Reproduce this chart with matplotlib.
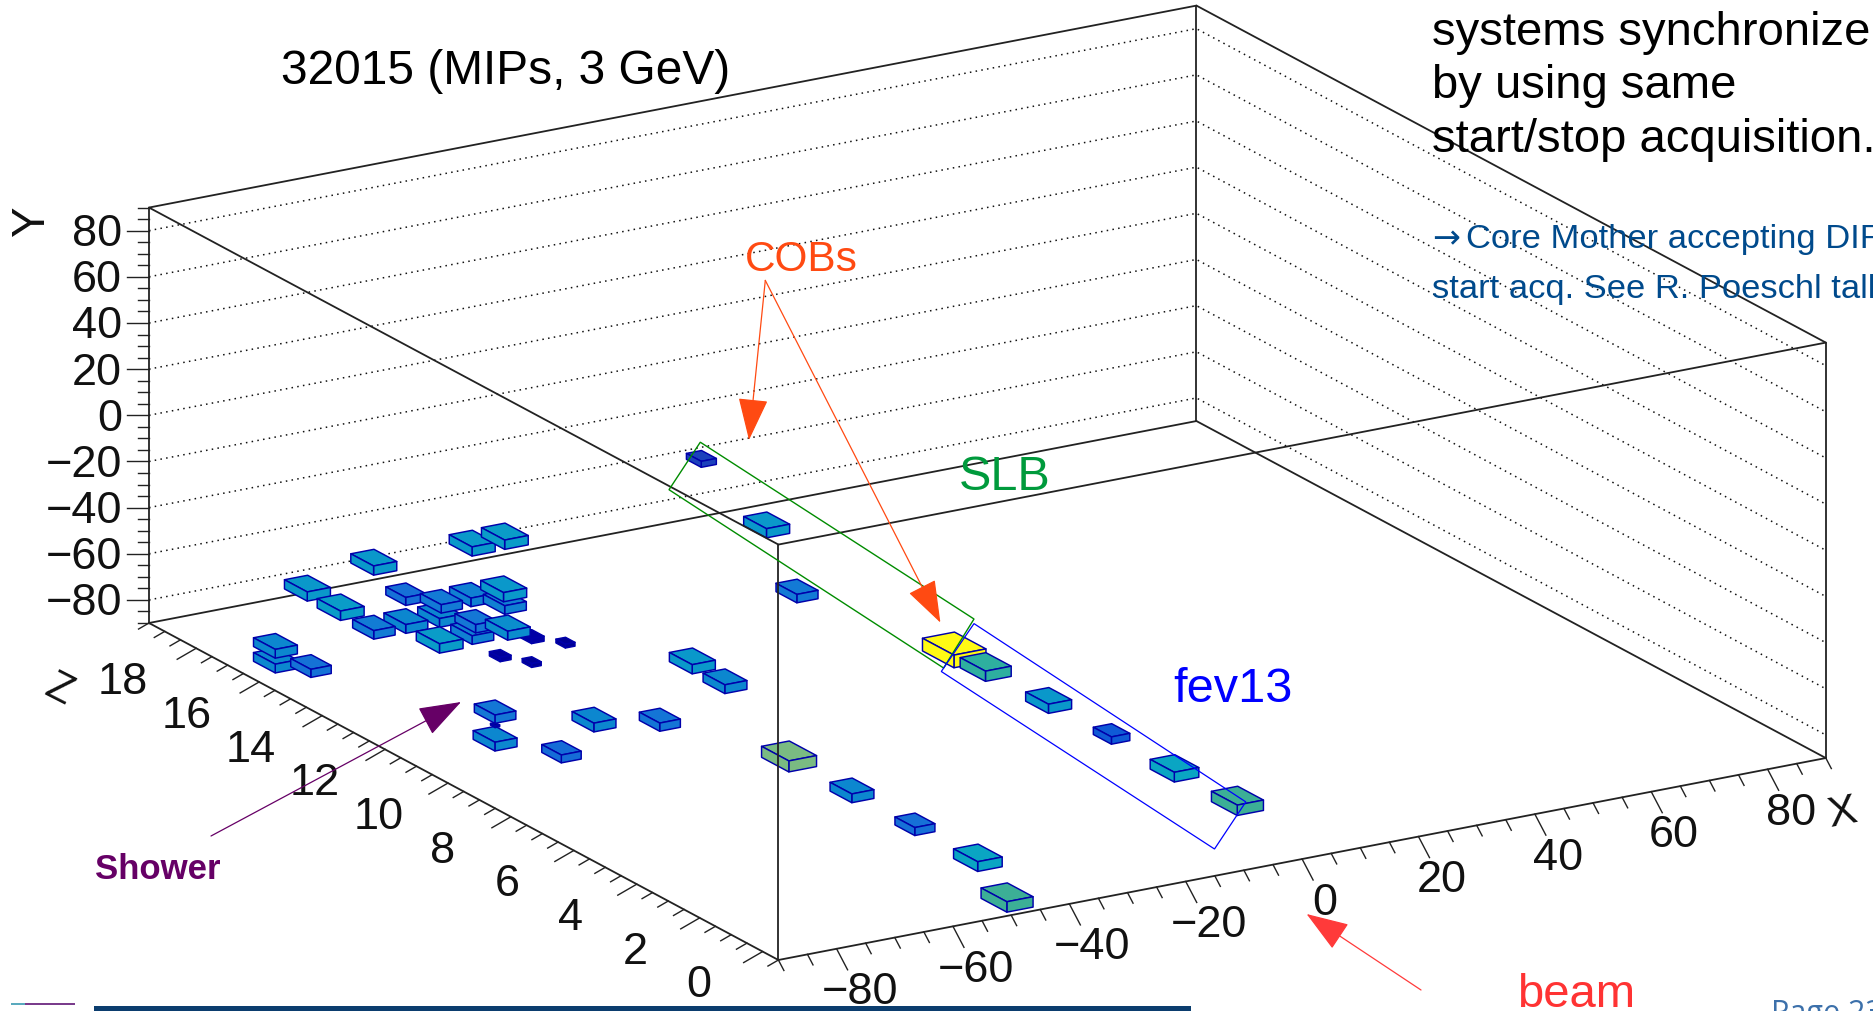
import numpy as np
import matplotlib
matplotlib.use("Agg")
import matplotlib.pyplot as plt
from matplotlib.colors import LinearSegmentedColormap
from matplotlib.patches import Polygon, Rectangle

plt.rcParams['font.family'] = ['Liberation Sans', 'DejaVu Sans']

# ---------- data ----------
box_x = [-3, -3, -3, -3, -3, -3,
         -42.2, -42.2, -42.2, -42.2, -48,
         -19.2, -13.6, -14,
         -48, -47.8, -64.4, -64.9, -75.9, -81.9, -81.9, -81.9,
         -70.3, -64.2, -64, -81.7, -81.4, -81.1, -70.2, -75.6, -75.2, -69.8, -69.5,
         -64.4, -64.2, -64, -69, -69.6, -68.9, -64.8, -64.4, -70.2, -70.2,
         -87.2, -87.2, -86.5]
box_y = [-74.6, -74.7, -74.6, -74.5, -74.8, -74.3,
         -87.1, -87.2, -87.3, -87.2, -87,
         -55.8, -44.5, -30.3,
         -57.5, -59.1, -60.4, -74.7, -76, -74.7, -63, -68.8,
         -47.7, -27.8, -17.6, -53.4, -54.5, -56, -54.3, -56, -57.1, -56.2, -50.4,
         -50, -40.3, -46.2, -52, -56.5, -47.5, -53.4, -48.9, -59, -54.5,
         -75.7, -82.1, -77.5]
box_z = [10, 9, 7, 5, 3, 1,
         8, 6, 4, 2, 0,
         12, 14, 16,
         10, 9, 8, 10, 9, 10, 10, 10,
         16, 14, 13, 16, 15, 14, 15, 14, 13, 14, 14,
         14, 13, 13, 13, 13, 12, 12, 11, 12, 11,
         16, 16, 15]
box_c = [1.0, 0.52, 0.38, 0.19, 0.45, 0.55,
         0.65, 0.33, 0.25, 0.45, 0.55,
         0.29, 0.38, 0.105,
         0.38, 0.33, 0.27, 0.33, 0.24, 0.33, 0.28, 0.003,
         0.38, 0.38, 0.40, 0.38, 0.405, 0.30, 0.25, 0.33, 0.40, 0.33, 0.29,
         0.31, 0.38, 0.31, 0.28, 0.31, 0.35, 0.06, 0.027, 0.04, 0.027,
         0.33, 0.33, 0.26]

x_ticks = [-80, -60, -40, -20, 0, 20, 40, 60, 80]
y_ticks = [-80, -60, -40, -20, 0, 20, 40, 60, 80]
z_ticks = [0, 2, 4, 6, 8, 10, 12, 14, 16, 18]

XMIN, XMAX = -90.0, 90.0
YMIN, YMAX = -90.0, 90.0
ZMIN, ZMAX = -0.5, 19.5
BIN_X, BIN_Y, BIN_Z = 5.5, 5.5, 1.0

FW, FH = 1874, 1012


def proj(x, y, z):
    """Parallel projection of the ROOT 3-D frame onto figure pixels."""
    x, y, z = np.asarray(x, float), np.asarray(y, float), np.asarray(z, float)
    xp, yp, zp = x - XMIN, y - YMIN, z - ZMIN
    return (778.4 + 5.819 * xp - 31.47 * zp,
            961.0 - 1.122 * xp - 16.85 * zp - 2.308 * yp)


fig = plt.figure(figsize=(FW / 100, FH / 100), dpi=100)
ax = fig.add_axes([0, 0, 1, 1])
ax.set_xlim(0, FW)
ax.set_ylim(FH, 0)
ax.axis('off')


def seg(p, q, **kw):
    a, b = proj(*p), proj(*q)
    ax.plot([a[0], b[0]], [a[1], b[1]], solid_capstyle='round', **kw)


# frame behind the boxes
frame = dict(color='#222222', lw=1.3, zorder=2)
seg((XMIN, YMIN, ZMAX), (XMAX, YMIN, ZMAX), **frame)
seg((XMAX, YMIN, ZMAX), (XMAX, YMIN, ZMIN), **frame)
seg((XMIN, YMIN, ZMAX), (XMIN, YMAX, ZMAX), **frame)
seg((XMAX, YMIN, ZMAX), (XMAX, YMAX, ZMAX), **frame)
seg((XMIN, YMAX, ZMAX), (XMAX, YMAX, ZMAX), **frame)
seg((XMAX, YMAX, ZMAX), (XMAX, YMAX, ZMIN), **frame)

# dotted wall grid
for yv in y_ticks:
    pa, pb, pc = proj(XMIN, yv, ZMAX), proj(XMAX, yv, ZMAX), proj(XMAX, yv, ZMIN)
    ax.plot([pa[0], pb[0], pc[0]], [pa[1], pb[1], pc[1]], color='#111111',
            lw=1.1, ls=(0, (1, 2.8)), zorder=1)

# palette
stops = [(0.0, (0, 0, 140)), (0.06, (0, 0, 165)), (0.105, (30, 70, 190)),
         (0.19, (15, 90, 215)), (0.25, (22, 112, 215)), (0.30, (18, 125, 212)),
         (0.33, (12, 135, 207)), (0.38, (10, 152, 202)), (0.45, (10, 165, 195)),
         (0.52, (45, 175, 160)), (0.55, (60, 175, 150)), (0.65, (122, 187, 130)),
         (1.0, (255, 250, 20))]
cmap = LinearSegmentedColormap.from_list(
    'bird', [(s, tuple(v / 255 for v in c)) for s, c in stops])

# boxes, far ones first
order = sorted(range(len(box_x)),
               key=lambda i: box_z[i] + box_x[i] / BIN_X - box_y[i] / BIN_Y,
               reverse=True)
EDGE = '#0000aa'
for k, i in enumerate(order):
    f = box_c[i] ** (1 / 3)
    dx, dy, dz = f * BIN_X / 2, f * BIN_Y / 2, f * BIN_Z / 2
    x, y, z = box_x[i], box_y[i], box_z[i]
    col = cmap(box_c[i])
    faces = [
        [(x - dx, y + dy, z - dz), (x + dx, y + dy, z - dz), (x + dx, y + dy, z + dz), (x - dx, y + dy, z + dz)],
        [(x - dx, y - dy, z - dz), (x + dx, y - dy, z - dz), (x + dx, y + dy, z - dz), (x - dx, y + dy, z - dz)],
        [(x - dx, y - dy, z - dz), (x - dx, y - dy, z + dz), (x - dx, y + dy, z + dz), (x - dx, y + dy, z - dz)],
    ]
    for face in faces:
        pts = np.array([proj(*p) for p in face])
        ax.add_patch(Polygon(pts, closed=True, facecolor=col, edgecolor=EDGE,
                             lw=1.05, joinstyle='round', zorder=3 + k * 0.001))

# frame in front of the boxes
front = dict(color='#222222', lw=1.3, zorder=4)
seg((XMIN, YMIN, ZMAX), (XMIN, YMIN, ZMIN), **front)
seg((XMIN, YMIN, ZMIN), (XMAX, YMIN, ZMIN), **front)
seg((XMIN, YMIN, ZMIN), (XMIN, YMAX, ZMIN), **front)
seg((XMAX, YMIN, ZMIN), (XMAX, YMAX, ZMIN), **front)
seg((XMIN, YMAX, ZMAX), (XMIN, YMAX, ZMIN), **front)
seg((XMIN, YMAX, ZMIN), (XMAX, YMAX, ZMIN), **front)

tick = dict(color='#222222', lw=1.0, zorder=4)
LBL = 32.5
LBLC = '#111111'

# Y axis ticks
for yv in np.arange(YMIN, YMAX + 0.1, 5):
    major = yv in y_ticks
    px, py = proj(XMIN, yv, ZMAX)
    ax.plot([px, px - (22 if major else 11)], [py, py], **tick)
for yv in y_ticks:
    px, py = proj(XMIN, yv, ZMAX)
    ax.text(px - 27, py + 3, str(yv).replace('-', '\u2212'), ha='right', va='center', fontsize=LBL, color=LBLC)

# X axis ticks
for xv in np.arange(XMIN, XMAX + 0.1, 5):
    major = xv in x_ticks
    px, py = proj(xv, YMIN, ZMIN)
    s = 1.0 if major else 0.5
    ax.plot([px, px + 11 * s], [py, py + 21 * s], **tick)
for xv in x_ticks:
    px, py = proj(xv, YMIN, ZMIN)
    ax.text(px + 23, py + 43, str(xv).replace('-', '\u2212'), ha='center', va='center', fontsize=LBL, color=LBLC)

# Z axis ticks
for zv in np.arange(ZMIN, ZMAX + 0.01, 0.5):
    major = abs(zv / 2 - round(zv / 2)) < 1e-6
    px, py = proj(XMIN, YMIN, zv)
    s = 1.0 if major else 0.55
    ax.plot([px, px - 19 * s], [py, py + 11 * s], **tick)
for zv in z_ticks:
    px, py = proj(XMIN, YMIN, zv)
    ax.text(px - 63.7 - 0.55 * zv, py + 33.4, str(zv), ha='center', va='center', fontsize=LBL, color=LBLC)

# axis titles
ax.text(32, 222, 'Y', rotation=90, ha='center', va='center', fontsize=33, color=LBLC)
ax.text(59, 690, 'Z', rotation=-27, ha='center', va='center', fontsize=30, color=LBLC)
ax.text(1842, 813, 'X', rotation=11, ha='center', va='center', fontsize=31, color=LBLC)

# annotation rectangles
ax.add_patch(Polygon([(700.3, 443.2), (974, 620), (943.6, 669), (669, 490.7)], closed=True,
                     fill=False, edgecolor='#008c00', lw=1.0, zorder=6))
ax.add_patch(Polygon([(974, 624.6), (1245.8, 802.9), (1214.5, 850), (941.3, 672.5)], closed=True,
                     fill=False, edgecolor='#0000ff', lw=0.9, zorder=6))


def arrow(start, end, color):
    ax.annotate('', xy=end, xytext=start, zorder=7,
                arrowprops=dict(arrowstyle='-|>,head_length=1.55,head_width=0.55', mutation_scale=17.5,
                                color=color, lw=0.9, shrinkA=0, shrinkB=0))


arrow((765.3, 281.4), (749, 441), '#ff4a12')
arrow((765.3, 281.4), (940.4, 623.6), '#ff4a12')
arrow((211, 837), (461, 703), '#660066')
arrow((1421, 991), (1306.6, 915), '#ff3a3a')

# texts
ax.text(281, 71, '32015 (MIPs, 3 GeV)', fontsize=34.5, color='black', va='center', ha='left')
for s, b in zip(['systems synchronize', 'by using same', 'start/stop acquisition.'], [45, 98, 152]):
    ax.text(1432, b, s, fontsize=34, color='black', va='baseline', ha='left', clip_on=True)
ax.text(1432, 248, '\u2192', fontsize=24, color='#004a8c', va='baseline', ha='left',
        family=['DejaVu Sans'])
ax.text(1466, 248, 'Core Mother accepting DIF', fontsize=24.8, color='#004a8c', va='baseline', ha='left', clip_on=True)
ax.text(1432, 298, 'start acq. See R. Poeschl talk', fontsize=24.8, color='#004a8c', va='baseline', ha='left', clip_on=True)
ax.text(801, 260, 'COBs', fontsize=30.5, color='#ff4a12', ha='center', va='center')
ax.text(1005, 477, 'SLB', fontsize=35, color='#009a3c', ha='center', va='center')
ax.text(1233, 690, 'fev13', fontsize=35, color='#0000ff', ha='center', va='center')
ax.text(1576, 995, 'beam', fontsize=34, color='#ff3333', ha='center', va='center', clip_on=True)
ax.text(158, 870, 'Shower', fontsize=25, color='#660066', ha='center', va='center', fontweight='bold')
ax.text(1771, 1022, 'Page 23', fontsize=22, color='#3c70aa', ha='left', va='baseline', clip_on=True,
        family=['Open Sans', 'DejaVu Sans'])

# slide furniture
ax.add_patch(Rectangle((94, 1007), 1097, 6, facecolor='#0b3d6e', edgecolor='none', zorder=8))
ax.add_patch(Rectangle((11, 1004), 14, 2, facecolor='#5aaabe', edgecolor='none', zorder=8))
ax.add_patch(Rectangle((25, 1004), 50, 2, facecolor='#7a3c8c', edgecolor='none', zorder=8))

fig.savefig('out.png', dpi=100, facecolor='white')
